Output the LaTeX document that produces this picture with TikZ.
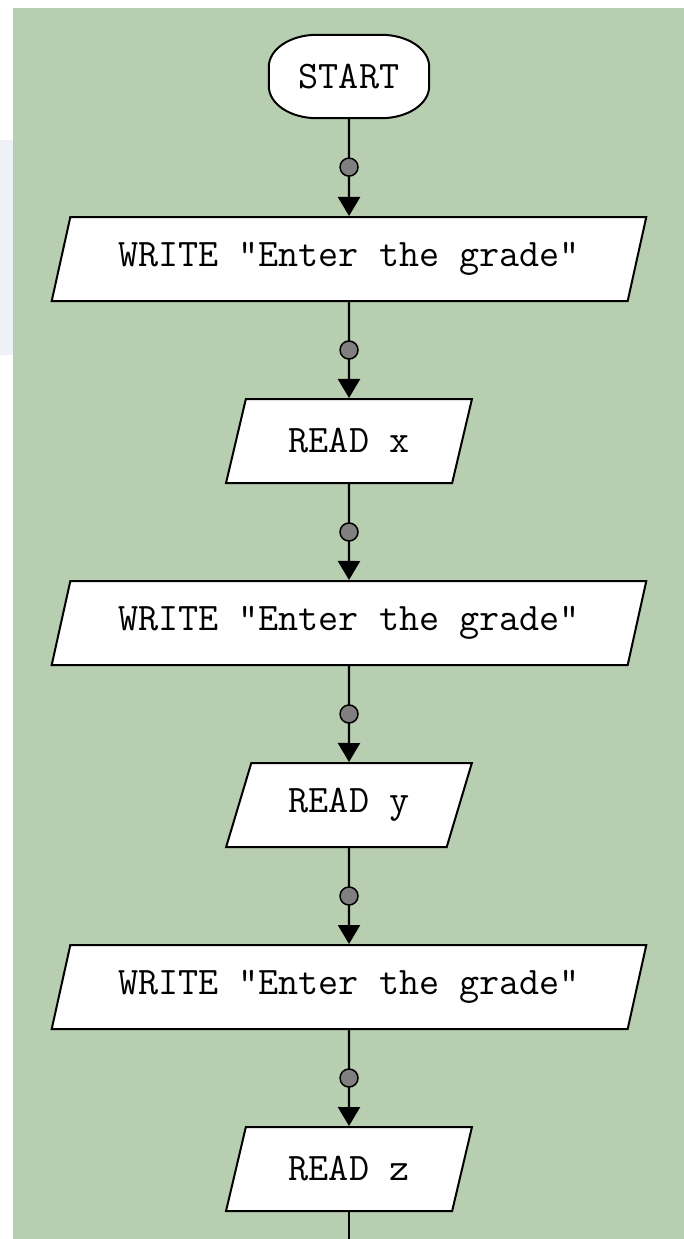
\documentclass[tikz,border=0pt]{standalone}
\usepackage{fontspec}
\usetikzlibrary{arrows.meta,shapes.geometric}

\definecolor{panel}{RGB}{184,206,177}
\definecolor{haze}{RGB}{238,242,247}
\definecolor{dotgray}{RGB}{128,128,128}

\pgfdeclarelayer{back}
\pgfdeclarelayer{outline}
\pgfsetlayers{back,outline,main}

\begin{document}
\begin{tikzpicture}[x=1pt,y=-1pt,
  every node/.style={font=\ttfamily\fontsize{39}{39}\selectfont},
  io/.style={trapezium, trapezium left angle=65, trapezium right angle=115,
    trapezium stretches=true, draw=black, fill=white, line width=2pt,
    minimum height=84pt, inner sep=0pt},
  term/.style={minimum width=160pt, minimum height=83pt, inner sep=0pt},
  flow/.style={line width=2.3pt, -{Triangle[width=22pt,length=19pt]}},
  plain flow/.style={line width=2.3pt},
  junction/.style={circle, draw=black, fill=dotgray, line width=1.5pt,
    minimum size=18pt, inner sep=0pt}
]
\useasboundingbox (0,0) rectangle (684,1239);
\clip (0,0) rectangle (684,1239);

% page, side haze and panel
\begin{pgfonlayer}{back}
  \fill[white] (0,0) rectangle (684,1239);
  \fill[haze, rounded corners=12pt] (-30,140) rectangle (60,355);
  \fill[panel] (13,8) rectangle (684,1239);
\end{pgfonlayer}

% flowchart steps
\node[term] (start) at (349,76.5) {START};
\node[io, minimum width=599pt] (w1) at (349,259)  {WRITE "Enter the grade"};
\node[io, minimum width=246pt] (rx) at (349,441)  {READ x};
\node[io, minimum width=599pt] (w2) at (349,623)  {WRITE "Enter the grade"};
\node[io, minimum width=246pt] (ry) at (349,805)  {READ y};
\node[io, minimum width=599pt] (w3) at (349,987)  {WRITE "Enter the grade"};
\node[io, minimum width=246pt] (rz) at (349,1169) {READ z};
\coordinate (tail) at (349,1250);

% terminal outline with elliptical corners
\begin{pgfonlayer}{outline}
  \draw[fill=white, line width=2pt]
    ([xshift=48pt]start.north west) -- ([xshift=-48pt]start.north east)
    arc[start angle=90, end angle=0, x radius=48pt, y radius=32pt]
    -- ([yshift=32pt]start.south east)
    arc[start angle=0, end angle=-90, x radius=48pt, y radius=32pt]
    -- ([xshift=48pt]start.south west)
    arc[start angle=-90, end angle=-180, x radius=48pt, y radius=32pt]
    -- ([yshift=-32pt]start.north west)
    arc[start angle=180, end angle=90, x radius=48pt, y radius=32pt]
    -- cycle;
\end{pgfonlayer}

% connectors with junction dots
\draw[flow] (start) -- node[junction] {} (w1);
\draw[flow] (w1) -- node[junction] {} (rx);
\draw[flow] (rx) -- node[junction] {} (w2);
\draw[flow] (w2) -- node[junction] {} (ry);
\draw[flow] (ry) -- node[junction] {} (w3);
\draw[flow] (w3) -- node[junction] {} (rz);
\draw[plain flow] (rz) -- (tail);
\end{tikzpicture}
\end{document}
